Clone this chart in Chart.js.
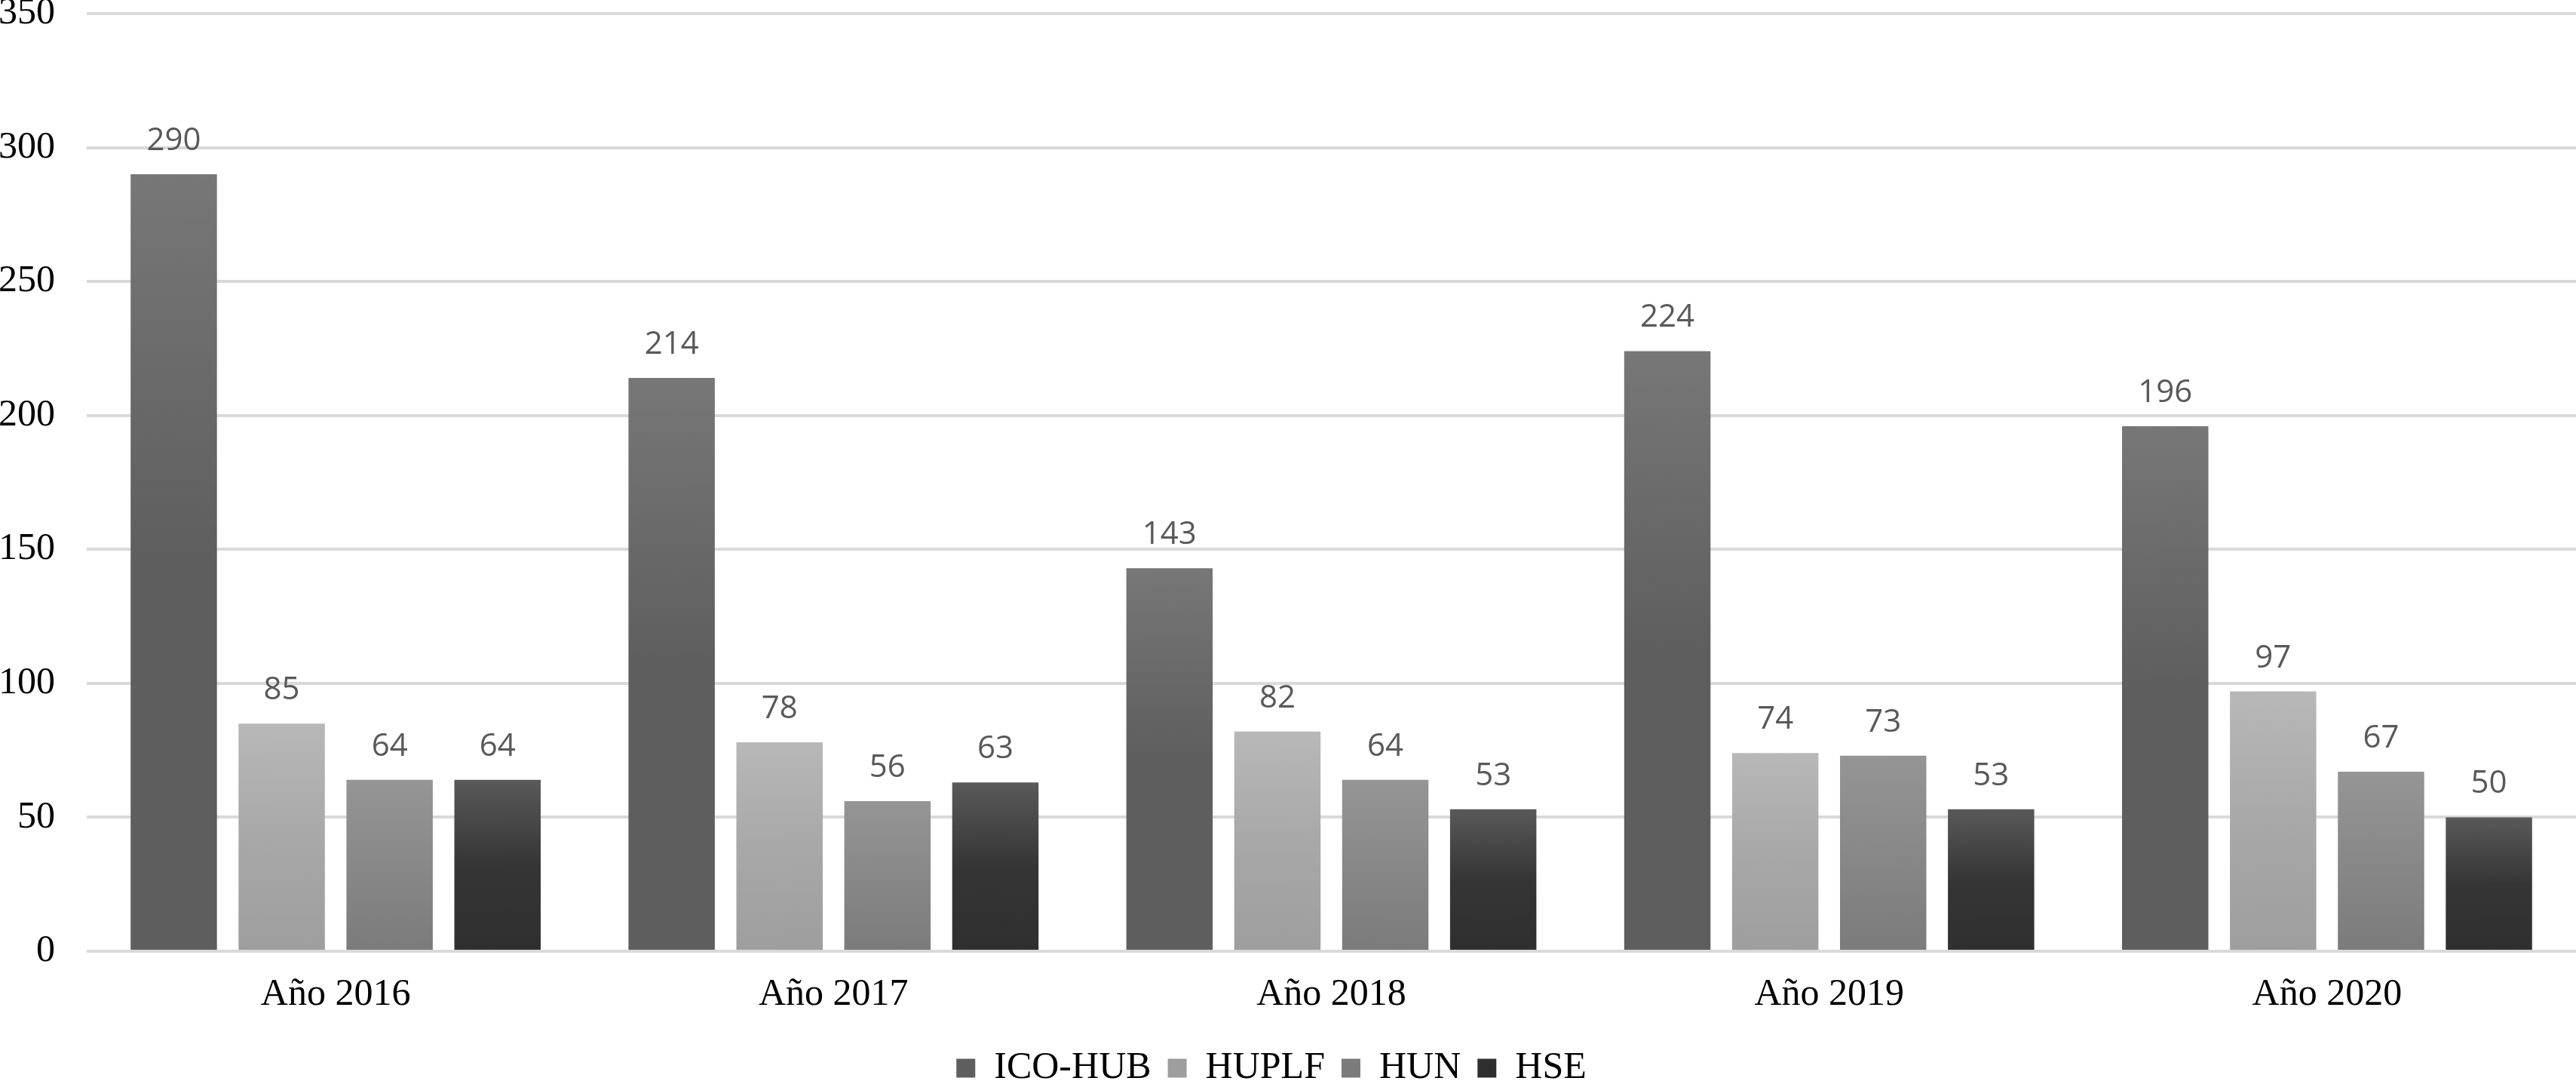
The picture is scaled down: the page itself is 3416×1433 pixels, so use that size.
<!DOCTYPE html>
<html>
<head>
<meta charset="utf-8">
<script src="https://cdn.jsdelivr.net/npm/chart.js@4.4.0/dist/chart.umd.min.js"></script>
<style>
    html, body { margin: 0; padding: 0; background: #ffffff; }
    #wrap { width: 3416px; height: 1433px; }
</style>
</head>
<body>
<div id="wrap"><canvas id="chart"></canvas></div>
<script>
// Categories and series
const years = ['Año 2016', 'Año 2017', 'Año 2018', 'Año 2019', 'Año 2020'];
const seriesNames = ['ICO-HUB', 'HUPLF', 'HUN', 'HSE'];
const icoHub = [290, 214, 143, 224, 196];
const huplf = [85, 78, 82, 74, 97];
const hun = [64, 56, 64, 73, 67];
const hse = [64, 63, 53, 53, 50];
const yTicks = [0, 50, 100, 150, 200, 250, 300, 350];

// Gradient stops per series (top -> bottom of each bar)
const shades = [
    ['#777777', '#5e5e5e', '#5e5e5e'],
    ['#b8b8b8', '#a8a8a8', '#9e9e9e'],
    ['#959595', '#888888', '#7b7b7b'],
    ['#595959', '#353535', '#2f2f2f']
];
const legendFill = ['#6a6a6a', '#ababab', '#888888', '#3a3a3a'];

const serif = '"Liberation Serif", "Times New Roman", serif';

function barFill(i) {
    return function(ctx) {
        const chart = ctx.chart;
        if (ctx.type !== 'data' || !chart.chartArea) return legendFill[i];
        const y = chart.scales.y;
        const top = y.getPixelForValue(ctx.raw);
        const bottom = y.getPixelForValue(0);
        const g = chart.ctx.createLinearGradient(0, top, 0, bottom);
        g.addColorStop(0, shades[i][0]);
        g.addColorStop(0.5, shades[i][1]);
        g.addColorStop(1, shades[i][2]);
        return g;
    };
}

// Value labels above the bars
const valueLabels = {
    id: 'valueLabels',
    afterDatasetsDraw(chart) {
        const c = chart.ctx;
        c.save();
        c.font = '42px "Open Sans"';
        c.fillStyle = '#595959';
        c.textAlign = 'center';
        c.textBaseline = 'alphabetic';
        chart.data.datasets.forEach((ds, i) => {
            chart.getDatasetMeta(i).data.forEach((bar, j) => {
                c.fillText(String(ds.data[j]), bar.x, bar.y - 32);
            });
        });
        c.restore();
    }
};

const allSeries = [icoHub, huplf, hun, hse];

new Chart(document.getElementById('chart'), {
    type: 'bar',
    data: {
        labels: years,
        datasets: allSeries.map((vals, i) => ({
            label: seriesNames[i],
            data: vals,
            backgroundColor: barFill(i),
            borderWidth: 0,
            categoryPercentage: 0.867,
            barPercentage: 0.8
        }))
    },
    options: {
        responsive: true,
        maintainAspectRatio: false,
        animation: false,
        layout: { padding: { top: -52, right: 0, bottom: -18, left: -44 } },
        plugins: {
            tooltip: { enabled: false },
            legend: {
                position: 'bottom',
                labels: {
                    boxWidth: 25,
                    boxHeight: 25,
                    padding: 22,
                    color: '#000000',
                    font: { family: serif, size: 50 }
                }
            }
        },
        scales: {
            x: {
                grid: { display: false },
                border: { display: false },
                ticks: {
                    color: '#000000',
                    padding: 20,
                    font: { family: serif, size: 50 }
                }
            },
            y: {
                min: 0,
                max: 350,
                afterBuildTicks(scale) {
                    scale.ticks = yTicks.map(v => ({ value: v }));
                },
                afterFit(scale) {
                    // top tick label may run off the canvas edge, as in the source
                    scale.paddingTop = 18;
                },
                grid: { color: '#d9d9d9', lineWidth: 4, drawTicks: false },
                border: { display: false },
                ticks: {
                    color: '#000000',
                    padding: 42,
                    font: { family: serif, size: 50 }
                }
            }
        }
    },
    plugins: [valueLabels]
});
</script>
</body>
</html>
